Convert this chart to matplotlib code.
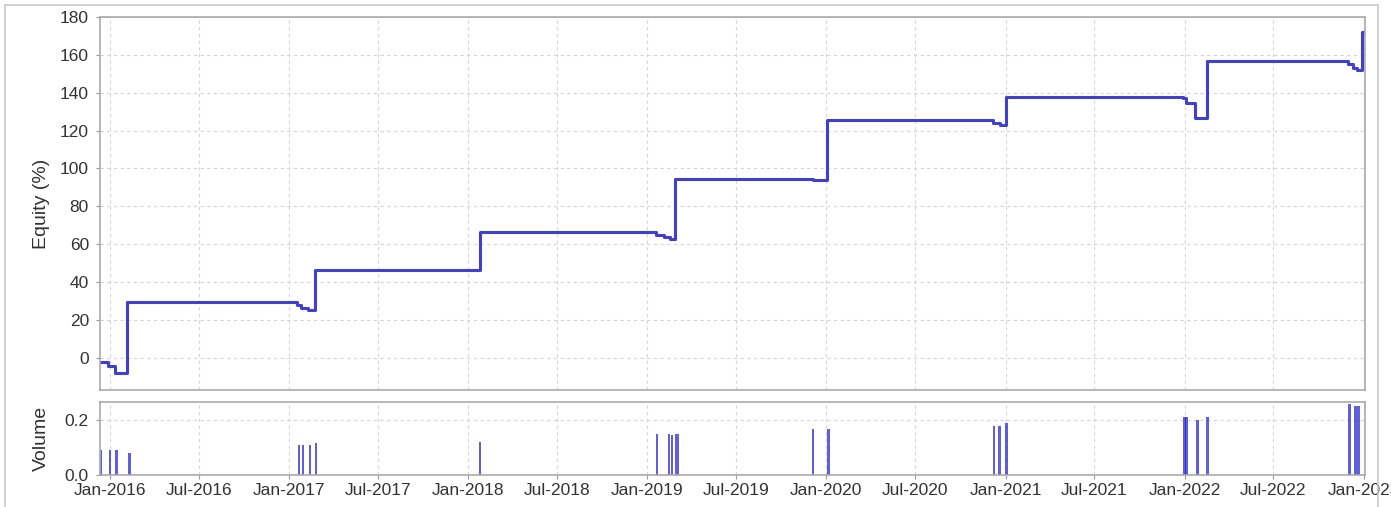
import matplotlib
matplotlib.use("Agg")
import matplotlib.pyplot as plt
import matplotlib.dates as mdates
from matplotlib.patches import Rectangle
import pandas as pd

plt.rcParams["font.family"] = ["Liberation Sans", "DejaVu Sans"]

# equity curve, step changes (date, equity %)
equity_dates = [
    "2015-12-12", "2015-12-28", "2016-01-11", "2016-02-06",
    "2017-01-17", "2017-01-25", "2017-02-08", "2017-02-22",
    "2018-01-25",
    "2019-01-19", "2019-02-05", "2019-02-17", "2019-02-27",
    "2019-12-05", "2020-01-02",
    "2020-12-06", "2020-12-20", "2021-01-01",
    "2021-12-28", "2022-01-03", "2022-01-23", "2022-02-15",
    "2022-12-01", "2022-12-11", "2022-12-19", "2022-12-29", "2023-01-04",
]
equity_values = [
    -2, -4.5, -8, 29.5,
    28, 26.4, 25.3, 46.4,
    66.5,
    65, 64, 62.5, 94.5,
    93.8, 125.6,
    124, 123, 138,
    137, 134.5, 126.6, 156.7,
    155, 153, 152, 172, 172,
]

# trade volumes
volume_dates = [
    "2015-12-14", "2016-01-01", "2016-01-15", "2016-02-10",
    "2017-01-21", "2017-01-29", "2017-02-12", "2017-02-24",
    "2018-01-25",
    "2019-01-21", "2019-02-15", "2019-02-21", "2019-03-01", "2019-03-05",
    "2019-12-05", "2020-01-06",
    "2020-12-08", "2020-12-20", "2021-01-03",
    "2022-01-01", "2022-01-05", "2022-01-27", "2022-02-17",
    "2022-12-03", "2022-12-16", "2022-12-22",
]
volume_values = [
    0.091, 0.091, 0.091, 0.081,
    0.109, 0.109, 0.109, 0.117,
    0.121,
    0.149, 0.149, 0.145, 0.149, 0.149,
    0.167, 0.167,
    0.178, 0.178, 0.189,
    0.21, 0.21, 0.2, 0.21,
    0.256, 0.25, 0.25,
]

eq_x = pd.to_datetime(equity_dates)
vol_x = pd.to_datetime(volume_dates)

W, H = 1391, 507
fig = plt.figure(figsize=(W / 100, H / 100), dpi=100)

# outer frame
fig.patches.append(Rectangle((5 / W, -0.01), (1378 - 5) / W, 1 - 5 / H + 0.01,
                             transform=fig.transFigure, fill=False,
                             edgecolor="#c8c8c8", linewidth=1.2))

ax = fig.add_axes([100 / W, 1 - 390 / H, (1365 - 100) / W, (390 - 17) / H])
axv = fig.add_axes([100 / W, 1 - 475 / H, (1365 - 100) / W, (475 - 402) / H], sharex=ax)

ax.plot(eq_x, equity_values, drawstyle="steps-post", color="#4040cc", linewidth=2.2)
axv.bar(vol_x, volume_values, width=5, color="#1c1cd0", alpha=0.7)

x0 = pd.Timestamp("2015-12-12")
x1 = pd.Timestamp("2023-01-04")
ax.set_xlim(x0, x1)
ax.set_ylim(-17, 180)
ax.set_yticks(range(0, 181, 20))
axv.set_ylim(0, 0.265)
axv.set_yticks([0.0, 0.2])
axv.yaxis.set_major_formatter(matplotlib.ticker.FormatStrFormatter("%.1f"))

axv.xaxis.set_major_locator(mdates.MonthLocator(bymonth=[1, 7]))
axv.xaxis.set_major_formatter(mdates.DateFormatter("%b-%Y"))
ax.tick_params(axis="x", labelbottom=False, length=0)

for a in (ax, axv):
    a.grid(True, color="#d4d4d4", linestyle=(0, (3, 3)), linewidth=0.8)
    a.set_axisbelow(True)
    for s in a.spines.values():
        s.set_color("#aaaaaa")
        s.set_linewidth(1.2)
    a.tick_params(axis="y", labelsize=12.5, colors="#999999", labelcolor="#333333",
                  length=3, pad=5)
axv.tick_params(axis="x", labelsize=12.5, colors="#999999", labelcolor="#333333",
                length=3, pad=3)

ax.set_ylabel("Equity (%)", fontsize=14, color="#333333")
axv.set_ylabel("Volume", fontsize=14, color="#333333")
ax.yaxis.set_label_coords(-50 / 1265, 0.5)
axv.yaxis.set_label_coords(-50 / 1265, 0.5)

fig.savefig("out.png", dpi=100)
